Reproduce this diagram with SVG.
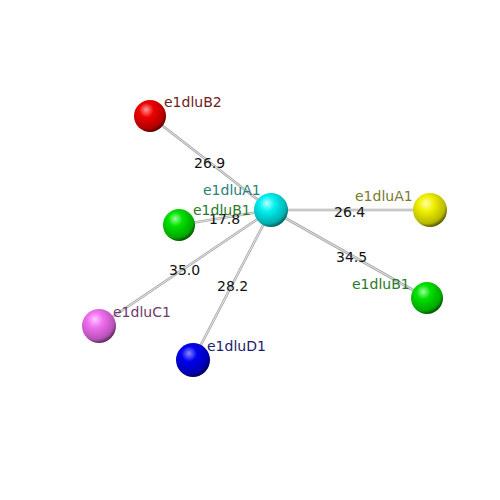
<svg xmlns="http://www.w3.org/2000/svg" width="500" height="500" viewBox="0 0 500 500">
<defs>
<radialGradient id="gCyan" cx="0.4" cy="0.35" r="0.65" fx="0.38" fy="0.3"><stop offset="0" stop-color="#b8ffff"/><stop offset="0.35" stop-color="#00f0f0"/><stop offset="0.85" stop-color="#00b0b0"/><stop offset="1" stop-color="#006868"/></radialGradient>
<radialGradient id="gRed" cx="0.4" cy="0.35" r="0.65" fx="0.38" fy="0.3"><stop offset="0" stop-color="#ff9a9a"/><stop offset="0.35" stop-color="#f00000"/><stop offset="0.85" stop-color="#b00000"/><stop offset="1" stop-color="#600000"/></radialGradient>
<radialGradient id="gGreen" cx="0.4" cy="0.35" r="0.65" fx="0.38" fy="0.3"><stop offset="0" stop-color="#9aff9a"/><stop offset="0.35" stop-color="#00e000"/><stop offset="0.85" stop-color="#00a800"/><stop offset="1" stop-color="#005800"/></radialGradient>
<radialGradient id="gYellow" cx="0.4" cy="0.35" r="0.65" fx="0.38" fy="0.3"><stop offset="0" stop-color="#ffffb0"/><stop offset="0.35" stop-color="#f0f000"/><stop offset="0.85" stop-color="#b8b800"/><stop offset="1" stop-color="#606000"/></radialGradient>
<radialGradient id="gPink" cx="0.4" cy="0.35" r="0.65" fx="0.38" fy="0.3"><stop offset="0" stop-color="#ffc8ff"/><stop offset="0.35" stop-color="#f070f0"/><stop offset="0.85" stop-color="#b850b8"/><stop offset="1" stop-color="#603060"/></radialGradient>
<radialGradient id="gBlue" cx="0.4" cy="0.35" r="0.65" fx="0.38" fy="0.3"><stop offset="0" stop-color="#8a8aff"/><stop offset="0.35" stop-color="#0000f0"/><stop offset="0.85" stop-color="#0000b0"/><stop offset="1" stop-color="#000060"/></radialGradient>
</defs>
<style>
.eo{stroke:#a8a8a8;stroke-width:2.6;fill:none}
.ei{stroke:#eeeeee;stroke-width:0.9;fill:none}
text{font-family:"DejaVu Sans",sans-serif;font-size:14px}
.el{fill:#111}
</style>
<rect width="500" height="500" fill="#ffffff"/>
<g id="connectors">
<line class="eo" x1="271" y1="210" x2="150" y2="116"/><line class="ei" x1="271" y1="210" x2="150" y2="116"/>
<line class="eo" x1="271" y1="210" x2="179" y2="225"/><line class="ei" x1="271" y1="210" x2="179" y2="225"/>
<line class="eo" x1="271" y1="210" x2="430" y2="210"/><line class="ei" x1="271" y1="210" x2="430" y2="210"/>
<line class="eo" x1="271" y1="210" x2="427" y2="298"/><line class="ei" x1="271" y1="210" x2="427" y2="298"/>
<line class="eo" x1="271" y1="210" x2="99" y2="326"/><line class="ei" x1="271" y1="210" x2="99" y2="326"/>
<line class="eo" x1="271" y1="210" x2="193" y2="360"/><line class="ei" x1="271" y1="210" x2="193" y2="360"/>
<text class="el" x="194" y="168">26.9</text>
<text class="el" x="209" y="224">17.8</text>
<text class="el" x="334" y="217">26.4</text>
<text class="el" x="336" y="262">34.5</text>
<text class="el" x="169" y="275">35.0</text>
<text class="el" x="217" y="291">28.2</text>
</g>
<g id="e1dluB2"><circle cx="150" cy="116" r="16" fill="url(#gRed)"/><text x="164" y="107" fill="#6e1c1c">e1dluB2</text></g>
<g id="e1dluB1_left"><circle cx="179" cy="225" r="16" fill="url(#gGreen)"/><text x="193" y="215" fill="#2a7a2a">e1dluB1</text></g>
<g id="e1dluA1_center"><circle cx="271" cy="210" r="17" fill="url(#gCyan)"/><text x="203" y="195" fill="#2a8080">e1dluA1</text></g>
<g id="e1dluA1_right"><circle cx="430" cy="210" r="17" fill="url(#gYellow)"/><text x="355" y="201" fill="#7a7a30">e1dluA1</text></g>
<g id="e1dluB1_right"><circle cx="427" cy="298" r="16" fill="url(#gGreen)"/><text x="352" y="289" fill="#2a7a2a">e1dluB1</text></g>
<g id="e1dluC1"><circle cx="99" cy="326" r="17" fill="url(#gPink)"/><text x="113" y="317" fill="#6e3a6e">e1dluC1</text></g>
<g id="e1dluD1"><circle cx="193" cy="360" r="17" fill="url(#gBlue)"/><text x="207" y="351" fill="#1c1c6e">e1dluD1</text></g>
</svg>
